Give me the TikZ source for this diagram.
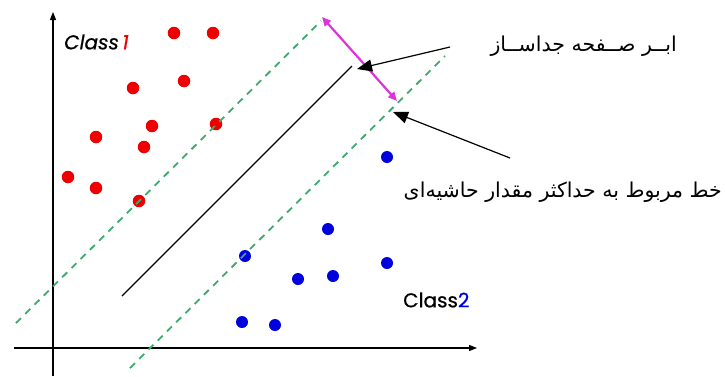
\documentclass[tikz,border=0pt]{standalone}
\usepackage{fontspec}
\usepackage{tikz}
\usetikzlibrary{arrows.meta,positioning,calc}
\TeXXeTstate=1
\newfontfamily\arabicfont[Script=Arabic]{DejaVu Sans}
\newfontfamily\classfont[FakeBold=0.6]{Poppins}
\definecolor{DotRed}{HTML}{EE0000}
\definecolor{DotBlue}{HTML}{0000DD}
\definecolor{Margin}{HTML}{3CAA6E}
\definecolor{Gap}{HTML}{DD33DD}
\tikzset{
  reddot/.style={circle,fill=DotRed,inner sep=0pt,minimum size=12.5pt},
  bluedot/.style={circle,fill=DotBlue,inner sep=0pt,minimum size=12pt},
  marginline/.style={Margin,line width=1.8pt,dash pattern=on 7pt off 6pt},
  pointer/.style={-{Triangle[length=15pt,width=12pt]},line width=1.2pt},
  classlabel/.style={font=\classfont\fontsize{20pt}{22pt}\selectfont,anchor=west,inner sep=0pt},
  persian/.style={font=\arabicfont\fontsize{20.5pt}{22pt}\selectfont,inner sep=0pt}
}
\begin{document}
\begin{tikzpicture}[x=1pt,y=-1pt]
        \useasboundingbox (0,0) rectangle (725,376);
        % axes
        \draw[-{Triangle[length=8pt,width=6pt]},line width=1.2pt] (53,376) -- (53,12);
        \draw[-{Triangle[length=8pt,width=6pt]},line width=1.2pt] (14,348) -- (477,348);
        % class 1 points
        \foreach \px/\py [count=\i] in {174/33,213/33,133/88,184/81,152/126,216/124,96/137,144/147,68/177,96/188,139/201}
          \node[reddot] (r\i) at (\px,\py) {};
        % class 2 points
        \foreach \px/\py [count=\i] in {387/157,328/229,245/256,298/279,333/276,387/263,242/322,275/325}
          \node[bluedot] (b\i) at (\px,\py) {};
        % hyperplane and margins
        \coordinate (h1) at (122,296);
        \coordinate (h2) at (352,66);
        \draw[line width=1.2pt] (h1) -- (h2);
        \coordinate (m1a) at (16,323);
        \coordinate (m1b) at (321,21);
        \coordinate (m2a) at (130,368);
        \coordinate (m2b) at (445,56);
        \draw[marginline] (m1a) -- (m1b);
        \draw[marginline] (m2a) -- (m2b);
        \coordinate (g1) at (322,17);
        \coordinate (g2) at (397,101);
        \draw[{Triangle[length=9pt,width=8pt]}-{Triangle[length=9pt,width=8pt]},Gap,line width=2.2pt] (g1) -- (g2);
        % labels
        \node[classlabel] (c1) at (64,42) {\itshape Class\,\textcolor{DotRed}{1}};
        \node[classlabel] (c2) at (403,300) {Class\textcolor{DotBlue}{2}};
        \node[persian,anchor=east] (t1) at (677,46) {\beginR ابــر صــفحه جداســاز\endR};
        \node[persian,anchor=east] (t2) at (722,192) {\beginR خط مربوط به حداکثر مقدار حاشیه‌ای\endR};
        \coordinate (p1) at (450,47);
        \coordinate (q1) at (357,69);
        \coordinate (p2) at (510,158);
        \coordinate (q2) at (393,112);
        \draw[pointer] (p1) -- (q1);
        \draw[pointer] (p2) -- (q2);
      \end{tikzpicture}
\end{document}
